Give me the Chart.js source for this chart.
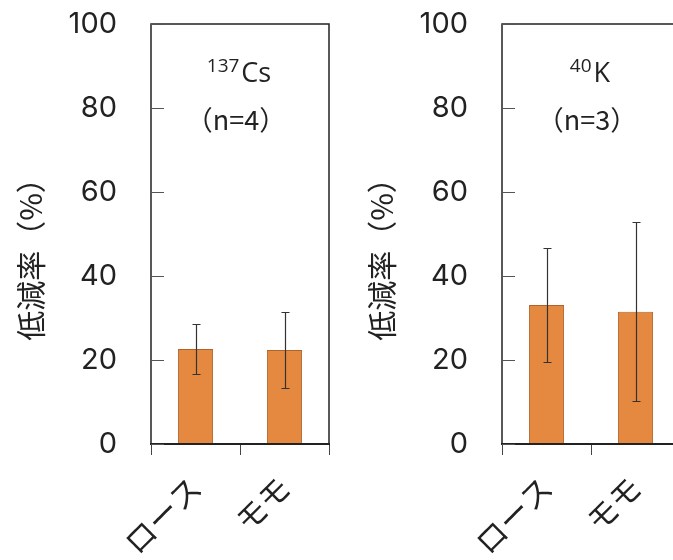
<!DOCTYPE html>
<html><head><meta charset="utf-8">
<script src="https://cdn.jsdelivr.net/npm/chart.js@4.4.1/dist/chart.umd.min.js"></script>
<style>
html,body{margin:0;padding:0;overflow:hidden;background:#fff;width:673px;height:560px;}
canvas{position:absolute;top:0;width:340px;height:560px;}
#c1{left:0}
#c2{left:351px}
</style></head><body>
<canvas id="c1" width="340" height="560"></canvas>
<canvas id="c2" width="340" height="560"></canvas>
<script>
const categories = ['ロース', 'モモ'];
const yTicks = [0, 20, 40, 60, 80, 100];
const yTitle = '低減率（%）';
const csMeans = [22.6, 22.4];
const csSD = [6.0, 9.1];
const kMeans = [33.1, 31.5];
const kSD = [13.6, 21.3];
const csIsotope = ['137', 'Cs'];
const kIsotope = ['40', 'K'];
const csN = '（n=4）';
const kN = '（n=3）';

const LATIN = '"Open Sans", "Noto Sans", sans-serif';
const DIGITS = 'Inter, "Open Sans", sans-serif';
const CJK = '"Noto Sans CJK JP", "Noto Sans CJK SC", sans-serif';
const TXT = '#222';

const panelPlugin = {
  id: 'panel',
  afterDatasetsDraw(chart, args, opts) {
    const {ctx, chartArea: a, scales: {y}} = chart;
    const meta = chart.getDatasetMeta(0);
    ctx.save();
    // error bars
    ctx.strokeStyle = '#333';
    ctx.lineWidth = 1.2;
    meta.data.forEach((bar, i) => {
      const m = opts.means[i], s = opts.sd[i];
      const yt = Math.round(y.getPixelForValue(m + s)) + 0.5;
      const yb = Math.round(y.getPixelForValue(m - s)) + 0.5;
      const bx = Math.round(bar.x) + 0.5;
      ctx.beginPath();
      ctx.moveTo(bx, yt); ctx.lineTo(bx, yb);
      ctx.moveTo(bx - 4, yt); ctx.lineTo(bx + 4, yt);
      ctx.moveTo(bx - 4, yb); ctx.lineTo(bx + 4, yb);
      ctx.stroke();
    });
    // frame
    ctx.strokeStyle = '#222';
    ctx.lineWidth = 1.5;
    ctx.strokeRect(a.left, a.top, a.right - a.left, a.bottom - a.top);
    ctx.lineWidth = 2;
    ctx.beginPath(); ctx.moveTo(a.left - 1, a.bottom); ctx.lineTo(a.right + 1, a.bottom); ctx.stroke();
    // inward y ticks
    ctx.lineWidth = 1;
    ctx.strokeStyle = '#555';
    y.ticks.forEach(t => {
      const py = Math.round(y.getPixelForValue(t.value)) + 0.5;
      ctx.beginPath(); ctx.moveTo(a.left, py); ctx.lineTo(a.left + 13, py); ctx.stroke();
    });
    // y title
    ctx.fillStyle = TXT;
    ctx.font = '30px ' + CJK;
    ctx.textAlign = 'center';
    ctx.textBaseline = 'middle';
    ctx.save();
    ctx.translate(31, 252);
    ctx.rotate(-Math.PI / 2);
    ctx.fillText(yTitle, 0, 0);
    ctx.restore();
    // annotation
    const cx = (a.left + a.right) / 2;
    ctx.textBaseline = 'alphabetic';
    ctx.textAlign = 'left';
    ctx.font = '19px ' + LATIN;
    const w1 = ctx.measureText(opts.iso[0]).width;
    ctx.font = '27px ' + LATIN;
    const w2 = ctx.measureText(opts.iso[1]).width;
    const sx = cx - (w1 + w2) / 2 - 2;
    ctx.font = '19px ' + LATIN;
    ctx.fillText(opts.iso[0], sx, 72);
    ctx.font = '27px ' + LATIN;
    ctx.fillText(opts.iso[1], sx + w1 + 2, 82);
    ctx.font = '27px ' + CJK;
    ctx.textAlign = 'center';
    ctx.fillText(opts.n, cx - 4, 130);
    ctx.restore();
  }
};

function makeChart(id, means, sd, iso, n) {
  return new Chart(document.getElementById(id), {
    type: 'bar',
    data: {
      labels: categories,
      datasets: [{
        data: means,
        backgroundColor: '#E4893F',
        borderColor: '#B0642C',
        borderWidth: 1,
        categoryPercentage: 1,
        barPercentage: 0.395
      }]
    },
    options: {
      responsive: false,
      maintainAspectRatio: false,
      animation: false,
      events: [],
      layout: {padding: {top: 24, right: 11, left: 0, bottom: 0}},
      plugins: {
        legend: {display: false},
        tooltip: {enabled: false},
        panel: {means: means, sd: sd, iso: iso, n: n}
      },
      scales: {
        x: {
          grid: {display: true, offset: true, drawOnChartArea: false, drawTicks: true, tickLength: 11, color: '#444', lineWidth: 1},
          border: {display: false},
          ticks: {minRotation: 45, maxRotation: 45, padding: 14, color: TXT, font: {family: CJK, size: 31}},
          afterFit(s) { s.height = 116; s.paddingLeft = 0; s.paddingRight = 0; }
        },
        y: {
          min: 0, max: 100,
          afterBuildTicks(s) { s.ticks = yTicks.map(v => ({value: v})); },
          grid: {display: false, drawTicks: false},
          border: {display: false},
          ticks: {padding: 34, color: TXT, font: {family: DIGITS, size: 29}},
          afterFit(s) { s.width = 151; s.paddingTop = 0; s.paddingBottom = 0; }
        }
      }
    },
    plugins: [panelPlugin]
  });
}

makeChart('c1', csMeans, csSD, csIsotope, csN);
makeChart('c2', kMeans, kSD, kIsotope, kN);
</script>
</body></html>
